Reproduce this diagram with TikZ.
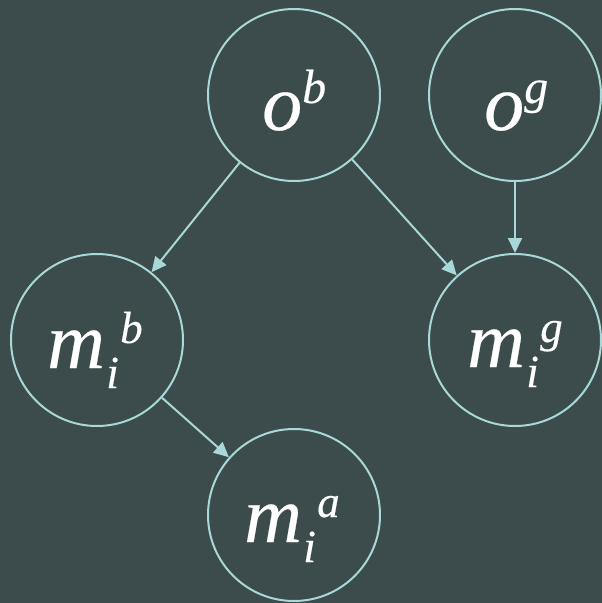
\documentclass[tikz,border=0pt]{standalone}
\usepackage{fontspec}
\setmainfont{Liberation Serif}[ItalicFeatures={FakeBold=0.3}]
\usetikzlibrary{arrows.meta}
\definecolor{bg}{HTML}{3C4B4B}
\definecolor{edge}{HTML}{A8D8D8}
% base letter with raised superscript
\newcommand{\obs}[2]{\makebox[0pt][l]{\fontsize{80}{80}\selectfont #1}\hspace{40pt}\raisebox{27pt}{\fontsize{48}{50}\selectfont #2}}
% m with subscript i and superscript #1
\newcommand{\mvar}[1]{\makebox[0pt][l]{\fontsize{80}{80}\selectfont m}\hspace{59pt}\makebox[0pt][l]{\raisebox{-20pt}{\fontsize{46}{46}\selectfont i}}\hspace{14pt}\raisebox{25pt}{\fontsize{45}{45}\selectfont #1}}
\tikzset{
  var/.style={circle, draw=edge, line width=2pt, minimum size=172pt, inner sep=0pt},
  lbl/.style={text=white, font=\itshape, inner sep=0pt, anchor=base west},
  link/.style={draw=edge, line width=2pt, -{Triangle[length=15pt,width=14pt]}}
}
\begin{document}
\begin{tikzpicture}[x=1pt,y=-1pt]
\fill[bg] (0,0) rectangle (602,603);
\useasboundingbox (0,0) rectangle (602,603);
\node[var] (ob) at (294,95) {};
\node[var] (og) at (515,95) {};
\node[var] (mb) at (97,340) {};
\node[var] (mg) at (515,340) {};
\node[var] (ma) at (294,515) {};
\node[lbl] (obt) at (262,130) {\obs{o}{b}};
\node[lbl] (ogt) at (484,130) {\obs{o}{g}};
\node[lbl] (mbt) at (47,368) {\mvar{b}};
\node[lbl] (mgt) at (467,367) {\mvar{g}};
\node[lbl] (mat) at (244,542) {\mvar{a}};
\draw[link] (ob) -- (mb);
\draw[link] (ob) -- (mg);
\draw[link] (og) -- (mg);
\draw[link] (mb) -- (ma);
\end{tikzpicture}
\end{document}
